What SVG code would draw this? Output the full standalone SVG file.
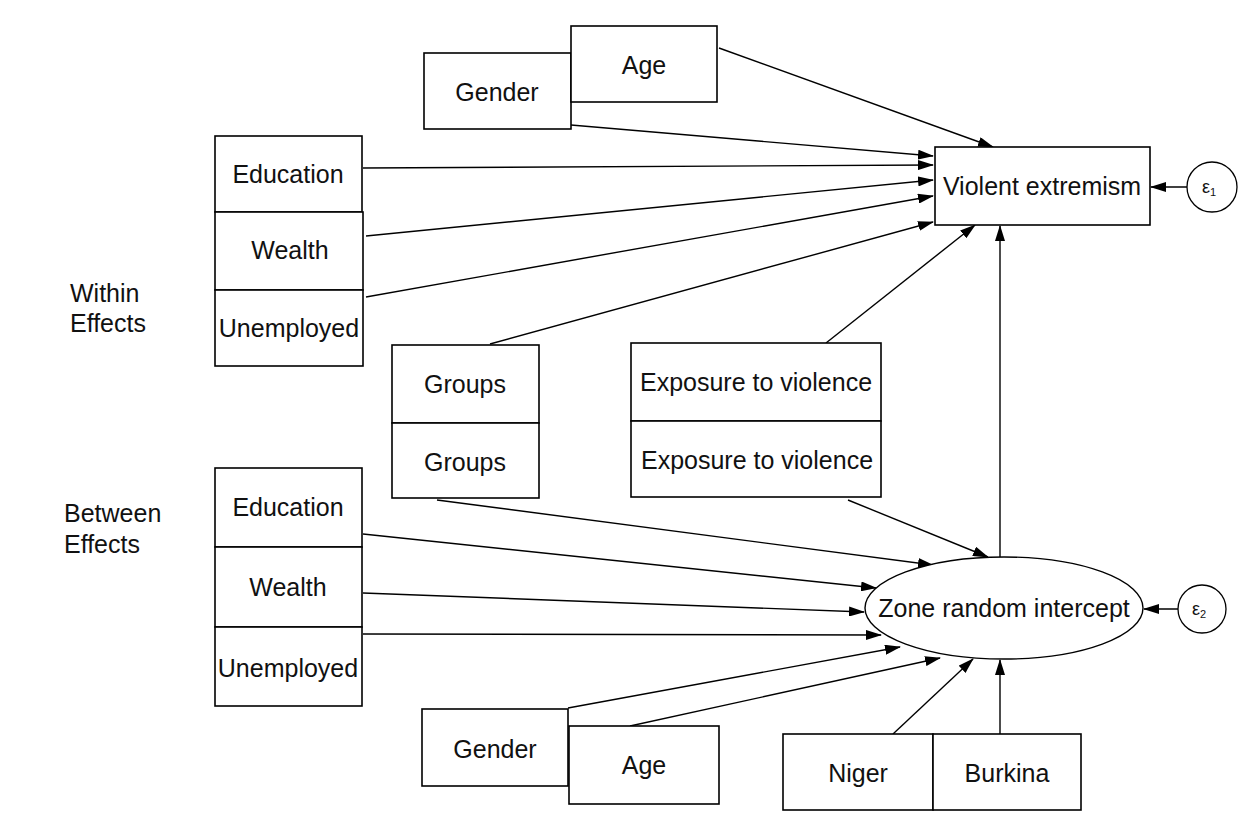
<svg xmlns="http://www.w3.org/2000/svg" width="1250" height="831" viewBox="0 0 1250 831">
<style>
.box{fill:#fff;stroke:#000;stroke-width:1.6}
.t{font-family:"Liberation Sans",Arial,sans-serif;font-size:25px;fill:#111;text-anchor:middle}
.lbl{font-family:"Liberation Sans",Arial,sans-serif;font-size:25px;fill:#111}
.c{stroke:#000;stroke-width:1.4;fill:none;marker-end:url(#ah)}
.e{font-family:"Liberation Sans",Arial,sans-serif;font-size:18px;fill:#111;text-anchor:middle}
</style>
<defs>
<marker id="ah" markerWidth="16" markerHeight="10" refX="15" refY="5" orient="auto" markerUnits="userSpaceOnUse">
<path d="M0,0 L16,5 L0,10 Z" fill="#000"/>
</marker>
</defs>
<rect width="1250" height="831" fill="#fff"/>
<g id="labels">
<text class="lbl" x="70" y="302">Within</text>
<text class="lbl" x="70" y="332">Effects</text>
<text class="lbl" x="64" y="522">Between</text>
<text class="lbl" x="64" y="553">Effects</text>
</g>
<g id="connectors">
<line class="c" x1="719" y1="48" x2="993" y2="147"/>
<line class="c" x1="571" y1="125" x2="933" y2="156"/>
<line class="c" x1="363" y1="168" x2="933" y2="165"/>
<line class="c" x1="366" y1="236" x2="933" y2="180"/>
<line class="c" x1="366" y1="297" x2="933" y2="196"/>
<line class="c" x1="490" y1="344" x2="933" y2="222"/>
<line class="c" x1="826" y1="343" x2="975" y2="225"/>
<line class="c" x1="1000" y1="557" x2="1000" y2="226"/>
<line class="c" x1="1187" y1="187" x2="1151" y2="187"/>
<line class="c" x1="1178" y1="609" x2="1144" y2="609"/>
<line class="c" x1="437" y1="500" x2="933" y2="565"/>
<line class="c" x1="848" y1="500" x2="988" y2="557"/>
<line class="c" x1="363" y1="534" x2="876" y2="588"/>
<line class="c" x1="363" y1="593" x2="864" y2="612"/>
<line class="c" x1="363" y1="634" x2="881" y2="635"/>
<line class="c" x1="568" y1="708" x2="900" y2="647"/>
<line class="c" x1="630" y1="726" x2="940" y2="658"/>
<line class="c" x1="893" y1="734" x2="973" y2="659"/>
<line class="c" x1="1000" y1="734" x2="1000" y2="660"/>
</g>
<g id="gender-top"><rect class="box" x="424" y="53" width="147" height="76"/><text class="t" x="497" y="101">Gender</text></g>
<g id="age-top"><rect class="box" x="571" y="26" width="146" height="76"/><text class="t" x="644" y="74">Age</text></g>
<g id="violent-extremism"><rect class="box" x="935" y="147" width="215" height="78"/><text class="t" x="1042" y="195">Violent extremism</text></g>
<g id="e1"><circle cx="1212" cy="187" r="25" fill="#fff" stroke="#000" stroke-width="1.3"/><text class="e" x="1209" y="193">ε<tspan font-size="11" dy="3">1</tspan></text></g>
<g id="education-w"><rect class="box" x="215" y="136" width="147" height="76"/><text class="t" x="288" y="183">Education</text></g>
<g id="wealth-w"><rect class="box" x="215" y="212" width="148" height="78"/><text class="t" x="290" y="259">Wealth</text></g>
<g id="unemployed-w"><rect class="box" x="215" y="290" width="148" height="76"/><text class="t" x="289" y="337">Unemployed</text></g>
<g id="groups-w"><rect class="box" x="392" y="345" width="147" height="78"/><text class="t" x="465" y="393">Groups</text></g>
<g id="groups-b"><rect class="box" x="392" y="423" width="147" height="75"/><text class="t" x="465" y="471">Groups</text></g>
<g id="exposure-w"><rect class="box" x="631" y="343" width="250" height="78"/><text class="t" x="756" y="391">Exposure to violence</text></g>
<g id="exposure-b"><rect class="box" x="631" y="421" width="250" height="76"/><text class="t" x="757" y="469">Exposure to violence</text></g>
<g id="education-b"><rect class="box" x="215" y="468" width="147" height="79"/><text class="t" x="288" y="516">Education</text></g>
<g id="wealth-b"><rect class="box" x="215" y="547" width="147" height="80"/><text class="t" x="288" y="596">Wealth</text></g>
<g id="unemployed-b"><rect class="box" x="215" y="627" width="147" height="79"/><text class="t" x="288" y="677">Unemployed</text></g>
<g id="zone"><ellipse cx="1004" cy="608" rx="139" ry="51" fill="#fff" stroke="#000" stroke-width="1.4"/><text class="t" x="1004" y="617">Zone random intercept</text></g>
<g id="e2"><circle cx="1202" cy="609" r="24" fill="#fff" stroke="#000" stroke-width="1.3"/><text class="e" x="1199" y="615">ε<tspan font-size="11" dy="3">2</tspan></text></g>
<g id="gender-b"><rect class="box" x="422" y="709" width="146" height="77"/><text class="t" x="495" y="758">Gender</text></g>
<g id="age-b"><rect class="box" x="569" y="726" width="150" height="78"/><text class="t" x="644" y="774">Age</text></g>
<g id="niger"><rect class="box" x="783" y="734" width="150" height="76"/><text class="t" x="858" y="782">Niger</text></g>
<g id="burkina"><rect class="box" x="933" y="734" width="148" height="76"/><text class="t" x="1007" y="782">Burkina</text></g>
</svg>
